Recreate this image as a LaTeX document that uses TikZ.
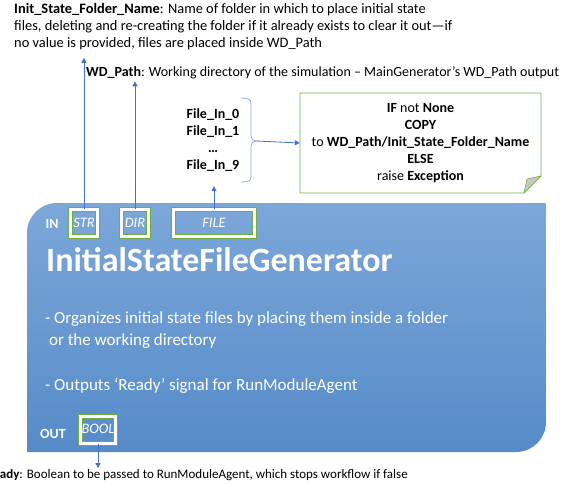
\documentclass[tikz,border=0pt]{standalone}
\usepackage{fontspec}
\setmainfont{Carlito}
\usetikzlibrary{arrows.meta}
\definecolor{pgreen}{RGB}{112,173,71}
\definecolor{pblue}{RGB}{68,114,196}
\definecolor{braceblue}{RGB}{143,170,220}
\definecolor{shadetop}{RGB}{124,167,217}
\definecolor{shadebot}{RGB}{86,139,200}
\definecolor{foldgray}{RGB}{200,200,200}
\tikzset{
  port/.style={draw=pgreen, double=white, line width=1.2pt, double distance=2.8pt,
    font=\fontsize{14.5}{16}\selectfont\itshape, text=white, inner sep=0pt},
  flowarrow/.style={draw=pblue, line width=0.8pt, -{Triangle[width=5pt,length=5pt]}},
  caption/.style={font=\fontsize{14.4}{17}\selectfont, inner sep=0pt, align=left},
  label/.style={font=\fontsize{14}{17}\selectfont\bfseries, text=white, inner sep=0pt},
}
\begin{document}
\begin{tikzpicture}[x=1pt,y=-1pt]
\useasboundingbox (0,0) rectangle (569,483);

% module body: rounded top-left and bottom-right corners
\shade[top color=shadetop, bottom color=shadebot]
  (27,452) -- (27,233) .. controls (27,216.4) and (40.4,203) .. (57,203)
  -- (546,203) -- (546,422) .. controls (546,438.6) and (532.6,452) .. (516,452)
  -- cycle;

% ports
\node[label] (in) at (52,224) {IN};
\node[port, minimum width=27.4pt, minimum height=27.4pt] (str) at (84,223) {STR};
\node[port, minimum width=27.4pt, minimum height=27.4pt] (dir) at (135,223) {DIR};
\node[port, minimum width=81.4pt, minimum height=27.4pt] (file) at (214,223) {FILE};
\node[label] (out) at (53,434) {OUT};
\node[port, minimum width=34.4pt, minimum height=26.4pt, text depth=3pt] (bool) at (98,430) {BOOL};

% title and description
\node[font=\fontsize{34}{40}\selectfont\bfseries, text=white, anchor=west, inner sep=0pt]
  (title) at (46,260) {InitialStateFileGenerator};
\node[font=\fontsize{17}{22}\selectfont, text=white, anchor=north west, inner sep=0pt, align=left]
  (desc) at (45,311) {- Organizes initial state files by placing them inside a folder\\
  \ or the working directory\\[23pt]
  - Outputs ‘Ready’ signal for RunModuleAgent};

% input descriptions
\node[caption, anchor=north west] (init) at (14,3)
  {\textbf{Init\_State\_Folder\_Name}: Name of folder in which to place initial state\\
   files, deleting and re-creating the folder if it already exists to clear it out—if\\
   no value is provided, files are placed inside WD\_Path};
\node[caption, font=\fontsize{14}{17}\selectfont, anchor=west] (wd) at (86,73)
  {\textbf{WD\_Path}: Working directory of the simulation – MainGenerator’s WD\_Path output};

\node[font=\fontsize{14}{17}\selectfont\bfseries, align=center, inner sep=0pt,
  minimum height=92pt] (files) at (213,140)
  {File\_In\_0\\File\_In\_1\\…\\File\_In\_9};

% brace grouping the files
\draw[braceblue, line width=0.8pt]
  (241,98) .. controls (248,98) and (251,99) .. (251,104) -- (251,136)
  .. controls (251,139) and (253,141) .. (256,141)
  .. controls (253,141) and (251,143) .. (251,146) -- (251,177)
  .. controls (251,181) and (248,182) .. (241,182);
\coordinate (bracetip) at (256,141);

% note with folded corner
\draw[pgreen, fill=white, line width=0.9pt]
  (300,93) -- (541,93) -- (541,176) -- (524,193) -- (300,193) -- cycle;
\draw[pgreen, fill=foldgray, line width=0.6pt, line join=round]
  (524,193) -- (527,179) -- (541,176) -- cycle;
\node[font=\fontsize{14}{16.8}\selectfont, align=center, inner sep=0pt, minimum width=241pt,
  minimum height=100pt] (note) at (420.5,143)
  {\textbf{IF} not \textbf{None}\\\textbf{COPY}\\to \textbf{WD\_Path/Init\_State\_Folder\_Name}\\
   \textbf{ELSE}\\raise \textbf{Exception}};

% output description
\node[caption, font=\fontsize{13}{16}\selectfont, anchor=east] (ready) at (408,475)
  {\textbf{Ready}: Boolean to be passed to RunModuleAgent, which stops workflow if false};

% connectors
\draw[flowarrow] (str.north) -- ([yshift=-8pt]str.north |- init.south);
\draw[flowarrow] (dir.north) -- ([yshift=-2pt]dir.north |- wd.south);
\draw[flowarrow] (file.north) -- (file.north |- files.south);
\draw[flowarrow] (bracetip) -- (note.west);
\draw[flowarrow] (bool.south) -- ([yshift=1pt]bool.south |- ready.north);
\end{tikzpicture}
\end{document}
